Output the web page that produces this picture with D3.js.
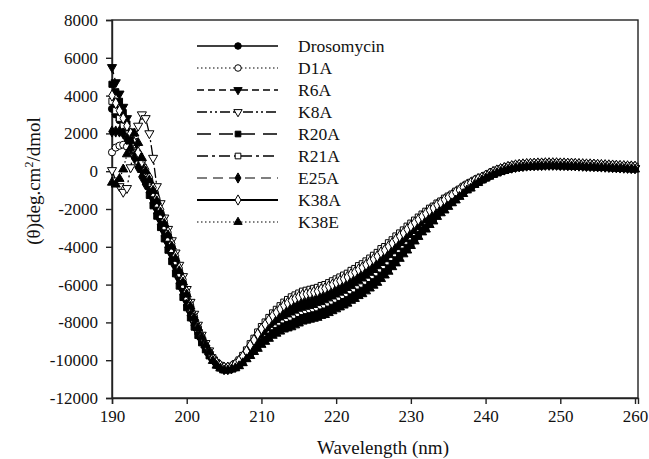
<!DOCTYPE html>
<html>
<head>
<meta charset="utf-8">
<script src="https://cdn.jsdelivr.net/npm/d3@7"></script>
<style>body { margin: 0; background: #fff; }</style>
</head>
<body>
<svg id="chart" width="649" height="459"></svg>
<script>
// wavelength grid, 190 -> 260 nm every 0.5 nm
let wavelengths = d3.range(0, 141).map(i => 190 + i * 0.5);

// mean residue ellipticity, one list per peptide
let drosomycin = [3300, 3000, 2700, 2400, 2000, 1600, 1100, 600, 100, -350,
  -800, -1350, -1900, -2500, -3100, -3700, -4300, -4950, -5600, -6200,
  -6800, -7400, -7950, -8450, -8900, -9300, -9650, -9950, -10200, -10350,
  -10450, -10450, -10400, -10300, -10150, -9950, -9700, -9450, -9200, -8950,
  -8700, -8500, -8300, -8100, -7950, -7800, -7650, -7550, -7450, -7350,
  -7250, -7150, -7100, -7050, -7000, -6950, -6850, -6800, -6700, -6600,
  -6500, -6400, -6300, -6200, -6050, -5950, -5800, -5700, -5550, -5400,
  -5250, -5100, -4900, -4750, -4550, -4350, -4150, -3950, -3750, -3550,
  -3350, -3150, -2950, -2750, -2600, -2400, -2250, -2050, -1900, -1750,
  -1600, -1450, -1300, -1150, -1000, -850, -750, -600, -500, -400,
  -300, -200, -100, -20, 50, 110, 170, 210, 250, 280,
  300, 320, 330, 340, 350, 350, 360, 360, 360, 360,
  350, 350, 340, 340, 330, 320, 310, 300, 300, 290,
  280, 270, 260, 250, 240, 230, 220, 210, 200, 190,
  180];

let d1a = [1000, 1250, 1350, 1400, 1300, 1100, 800, 500, 150, -200,
  -480, -1030, -1580, -2180, -2780, -3380, -3980, -4630, -5280, -5880,
  -6520, -7160, -7750, -8290, -8780, -9200, -9570, -9910, -10160, -10310,
  -10410, -10410, -10360, -10240, -10070, -9850, -9580, -9290, -9020, -8730,
  -8460, -8240, -8020, -7800, -7630, -7460, -7290, -7170, -7050, -6950,
  -6850, -6750, -6700, -6650, -6600, -6550, -6450, -6400, -6300, -6200,
  -6100, -6000, -5900, -5800, -5650, -5550, -5400, -5300, -5150, -5000,
  -4850, -4700, -4500, -4370, -4170, -3990, -3790, -3610, -3430, -3230,
  -3050, -2870, -2690, -2510, -2360, -2180, -2050, -1870, -1740, -1590,
  -1460, -1330, -1180, -1050, -900, -770, -670, -540, -440, -360,
  -260, -160, -60, 20, 90, 150, 210, 250, 290, 320,
  340, 360, 370, 380, 390, 390, 400, 400, 400, 400,
  390, 390, 380, 380, 370, 360, 350, 340, 340, 330,
  320, 310, 300, 290, 280, 270, 260, 250, 240, 230,
  220];

let r6a = [5500, 4700, 4100, 3400, 2800, 2100, 1400, 800, 200, -350,
  -960, -1510, -2060, -2660, -3260, -3860, -4460, -5110, -5760, -6360,
  -6940, -7520, -8050, -8530, -8960, -9350, -9690, -9970, -10220, -10370,
  -10470, -10470, -10420, -10330, -10190, -10000, -9760, -9530, -9290, -9060,
  -8820, -8630, -8440, -8250, -8110, -7970, -7830, -7740, -7650, -7550,
  -7450, -7350, -7300, -7250, -7200, -7150, -7050, -7000, -6900, -6800,
  -6700, -6600, -6500, -6400, -6250, -6150, -6000, -5900, -5750, -5600,
  -5450, -5300, -5100, -4940, -4740, -4530, -4330, -4120, -3910, -3710,
  -3500, -3290, -3080, -2870, -2720, -2510, -2350, -2140, -1980, -1830,
  -1670, -1510, -1360, -1200, -1050, -890, -790, -630, -530, -420,
  -320, -220, -120, -40, 30, 90, 150, 190, 230, 260,
  280, 300, 310, 320, 330, 330, 340, 340, 340, 340,
  330, 330, 320, 320, 310, 300, 290, 280, 280, 270,
  260, 250, 240, 230, 220, 210, 200, 190, 180, 170,
  160];

let k8a = [50, -500, -800, -1100, -900, 200, 1300, 2400, 3000, 2800,
  2000, 700, -800, -1700, -2460, -3060, -3660, -4310, -4960, -5560,
  -6240, -6920, -7550, -8130, -8660, -9100, -9490, -9990, -10240, -10390,
  -10490, -10490, -10440, -10360, -10230, -10050, -9820, -9610, -9380, -9170,
  -8940, -8760, -8580, -8400, -8270, -8140, -8010, -7930, -7850, -7750,
  -7650, -7550, -7500, -7450, -7400, -7350, -7250, -7200, -7100, -7000,
  -6900, -6800, -6700, -6600, -6450, -6350, -6200, -6100, -5950, -5800,
  -5650, -5500, -5300, -5130, -4930, -4710, -4510, -4290, -4070, -3870,
  -3650, -3430, -3210, -2990, -2840, -2620, -2450, -2230, -2060, -1910,
  -1740, -1570, -1420, -1250, -1100, -930, -830, -660, -560, -440,
  -340, -240, -140, -60, 10, 70, 130, 170, 210, 240,
  260, 280, 290, 300, 310, 310, 320, 320, 320, 320,
  310, 310, 300, 300, 290, 280, 270, 260, 260, 250,
  240, 230, 220, 210, 200, 190, 180, 170, 160, 150,
  140];

let r20a = [4600, 4200, 3700, 3100, 2500, 1900, 1300, 700, 100, -550,
  -1280, -1830, -2380, -2980, -3580, -4180, -4780, -5430, -6080, -6680,
  -7220, -7760, -8250, -8690, -9080, -9450, -9770, -10010, -10260, -10410,
  -10510, -10510, -10460, -10390, -10270, -10100, -9880, -9690, -9470, -9280,
  -9060, -8890, -8720, -8550, -8430, -8310, -8190, -8120, -8050, -7950,
  -7850, -7750, -7700, -7650, -7600, -7550, -7450, -7400, -7300, -7200,
  -7100, -7000, -6900, -6800, -6650, -6550, -6400, -6300, -6150, -6000,
  -5850, -5700, -5500, -5320, -5120, -4890, -4690, -4460, -4230, -4030,
  -3800, -3570, -3340, -3110, -2960, -2730, -2550, -2320, -2140, -1990,
  -1810, -1630, -1480, -1300, -1150, -970, -870, -690, -590, -460,
  -360, -260, -160, -80, -10, 50, 110, 150, 190, 220,
  240, 260, 270, 280, 290, 290, 300, 300, 300, 300,
  290, 290, 280, 280, 270, 260, 250, 240, 240, 230,
  220, 210, 200, 190, 180, 170, 160, 150, 140, 130,
  120];

let r21a = [3700, 3200, 2800, 2400, 2000, 1700, 1300, 900, 400, -100,
  -640, -1190, -1740, -2340, -2940, -3540, -4140, -4790, -5440, -6040,
  -6660, -7280, -7850, -8370, -8840, -9250, -9610, -9870, -10120, -10270,
  -10370, -10370, -10320, -10180, -9990, -9750, -9460, -9130, -8840, -8510,
  -8220, -7980, -7740, -7500, -7310, -7120, -6930, -6790, -6650, -6550,
  -6450, -6350, -6300, -6250, -6200, -6150, -6050, -6000, -5900, -5800,
  -5700, -5600, -5500, -5400, -5250, -5150, -5000, -4900, -4750, -4600,
  -4450, -4300, -4100, -3990, -3790, -3630, -3430, -3270, -3110, -2910,
  -2750, -2590, -2430, -2270, -2120, -1960, -1850, -1690, -1580, -1430,
  -1320, -1210, -1060, -950, -800, -690, -590, -480, -380, -320,
  -220, -120, -20, 60, 130, 190, 250, 290, 330, 360,
  380, 400, 410, 420, 430, 430, 440, 440, 440, 440,
  430, 430, 420, 420, 410, 400, 390, 380, 380, 370,
  360, 350, 340, 330, 320, 310, 300, 290, 280, 270,
  260];

let e25a = [2100, 2100, 2100, 2000, 1700, 1200, 700, 200, -300, -700,
  -1120, -1670, -2220, -2820, -3420, -4020, -4620, -5270, -5920, -6520,
  -7080, -7640, -8150, -8610, -9020, -9400, -9730, -9930, -10180, -10330,
  -10430, -10430, -10380, -10270, -10110, -9900, -9640, -9370, -9110, -8840,
  -8580, -8370, -8160, -7950, -7790, -7630, -7470, -7360, -7250, -7150,
  -7050, -6950, -6900, -6850, -6800, -6750, -6650, -6600, -6500, -6400,
  -6300, -6200, -6100, -6000, -5850, -5750, -5600, -5500, -5350, -5200,
  -5050, -4900, -4700, -4560, -4360, -4170, -3970, -3780, -3590, -3390,
  -3200, -3010, -2820, -2630, -2480, -2290, -2150, -1960, -1820, -1670,
  -1530, -1390, -1240, -1100, -950, -810, -710, -570, -470, -380,
  -280, -180, -80, 0, 70, 130, 190, 230, 270, 300,
  320, 340, 350, 360, 370, 370, 380, 380, 380, 380,
  370, 370, 360, 360, 350, 340, 330, 320, 320, 310,
  300, 290, 280, 270, 260, 250, 240, 230, 220, 210,
  200];

let k38a = [4000, 3600, 3200, 2800, 2400, 2000, 1500, 1000, 500, 100,
  -320, -870, -1420, -2020, -2620, -3220, -3820, -4470, -5120, -5720,
  -6380, -7040, -7650, -8210, -8720, -9150, -9530, -9890, -10140, -10290,
  -10390, -10390, -10340, -10210, -10030, -9800, -9520, -9210, -8930, -8620,
  -8340, -8110, -7880, -7650, -7470, -7290, -7110, -6980, -6850, -6750,
  -6650, -6550, -6500, -6450, -6400, -6350, -6250, -6200, -6100, -6000,
  -5900, -5800, -5700, -5600, -5450, -5350, -5200, -5100, -4950, -4800,
  -4650, -4500, -4300, -4180, -3980, -3810, -3610, -3440, -3270, -3070,
  -2900, -2730, -2560, -2390, -2240, -2070, -1950, -1780, -1660, -1510,
  -1390, -1270, -1120, -1000, -850, -730, -630, -510, -410, -340,
  -240, -140, -40, 40, 110, 170, 230, 270, 310, 340,
  360, 380, 390, 400, 410, 410, 420, 420, 420, 420,
  410, 410, 400, 400, 390, 380, 370, 360, 360, 350,
  340, 330, 320, 310, 300, 290, 280, 270, 260, 250,
  240];

let k38e = [-600, -700, -400, 100, 900, 1600, 2000, 1500, 700, 0,
  -480, -1030, -1580, -2180, -2780, -3380, -3980, -4630, -5280, -5880,
  -6520, -7160, -7750, -8290, -8780, -9200, -9570, -10030, -10280, -10430,
  -10530, -10530, -10480, -10420, -10310, -10150, -9940, -9770, -9560, -9390,
  -9180, -9020, -8860, -8700, -8590, -8480, -8370, -8310, -8250, -8150,
  -8050, -7950, -7900, -7850, -7800, -7750, -7650, -7600, -7500, -7400,
  -7300, -7200, -7100, -7000, -6850, -6750, -6600, -6500, -6350, -6200,
  -6050, -5900, -5700, -5510, -5310, -5070, -4870, -4630, -4390, -4190,
  -3950, -3710, -3470, -3230, -3080, -2840, -2650, -2410, -2220, -2070,
  -1880, -1690, -1540, -1350, -1200, -1010, -910, -720, -620, -480,
  -380, -280, -180, -100, -30, 30, 90, 130, 170, 200,
  220, 240, 250, 260, 270, 270, 280, 280, 280, 280,
  270, 270, 260, 260, 250, 240, 230, 220, 220, 210,
  200, 190, 180, 170, 160, 150, 140, 130, 120, 110,
  100];

let seriesNames = ["Drosomycin", "D1A", "R6A", "K8A", "R20A", "R21A", "E25A", "K38A", "K38E"];
let seriesValues = [drosomycin, d1a, r6a, k8a, r20a, r21a, e25a, k38a, k38e];

let xTicks = [190, 200, 210, 220, 230, 240, 250, 260];
let yTicks = [-12000, -10000, -8000, -6000, -4000, -2000, 0, 2000, 4000, 6000, 8000];

// styles, same order as the names
let triDown = { draw: (ctx, size) => {
  let h = Math.sqrt(size / (3 * Math.sqrt(3)));
  ctx.moveTo(0, 2 * h); ctx.lineTo(-Math.sqrt(3) * h, -h); ctx.lineTo(Math.sqrt(3) * h, -h); ctx.closePath();
} };
let markerShape = [d3.symbolCircle, d3.symbolCircle, triDown, triDown, d3.symbolSquare, d3.symbolSquare, d3.symbolDiamond, d3.symbolDiamond, d3.symbolTriangle];
let markerSize = [40, 40, 36, 36, 38, 38, 36, 36, 36];
let markerFilled = [true, false, true, false, true, false, true, false, true];
let lineDash = [null, "1.5,2.5", "7,4", "10,3,2,3,2,3", "14,8", "11,4,3,4", "10,6", null, "1.5,2.5"];
let lineWidth = [1.3, 1.2, 1.3, 1.3, 1.4, 1.3, 1.2, 2.2, 1.2];

let svg = d3.select("#chart");

let x = d3.scaleLinear().domain([190, 260.4]).range([112, 638]);
let y = d3.scaleLinear().domain([-12000, 8000]).range([398, 20]);

// frame
svg.append("rect")
  .attr("x", 112).attr("y", 20)
  .attr("width", 638 - 112).attr("height", 398 - 20)
  .attr("fill", "none").attr("stroke", "#222").attr("stroke-width", 1.4);

let xAxis = svg.append("g")
  .attr("transform", "translate(0,398)")
  .call(d3.axisBottom(x).tickValues(xTicks).tickSize(6).tickPadding(6).tickFormat(d => String(d)));
let yAxis = svg.append("g")
  .attr("transform", "translate(112,0)")
  .call(d3.axisLeft(y).tickValues(yTicks).tickSize(6).tickPadding(8).tickFormat(d => String(d)));

[xAxis, yAxis].forEach(ax => {
  ax.attr("font-family", null).attr("font-size", null);
  ax.selectAll("path").attr("stroke", "#222").attr("stroke-width", 1.4);
  ax.selectAll("line").attr("stroke", "#222").attr("stroke-width", 1.4);
  ax.selectAll("text")
    .attr("font-family", "Times New Roman")
    .attr("font-size", 17)
    .attr("fill", "#111");
});

// curves
let line = d3.line().x(d => x(d[0])).y(d => y(d[1]));

seriesValues.forEach((vals, i) => {
  let pts = vals.map((v, j) => [wavelengths[j], v]);
  let g = svg.append("g");
  g.append("path")
    .attr("d", line(pts))
    .attr("fill", "none")
    .attr("stroke", "#000")
    .attr("stroke-width", lineWidth[i])
    .attr("stroke-dasharray", lineDash[i]);
  g.selectAll("path.mark")
    .data(pts)
    .enter()
    .append("path")
    .attr("class", "mark")
    .attr("transform", d => "translate(" + x(d[0]) + "," + y(d[1]) + ")")
    .attr("d", d3.symbol().type(markerShape[i]).size(markerSize[i]))
    .attr("fill", markerFilled[i] ? "#000" : "#fff")
    .attr("stroke", "#000")
    .attr("stroke-width", 1);
});

// legend
seriesNames.forEach((name, i) => {
  let ly = 46 + 22 * i;
  svg.append("line")
    .attr("x1", 197).attr("x2", 278).attr("y1", ly).attr("y2", ly)
    .attr("stroke", "#000")
    .attr("stroke-width", lineWidth[i])
    .attr("stroke-dasharray", lineDash[i]);
  svg.append("path")
    .attr("transform", "translate(238," + ly + ")")
    .attr("d", d3.symbol().type(markerShape[i]).size(markerSize[i] - 6))
    .attr("fill", markerFilled[i] ? "#000" : "#fff")
    .attr("stroke", "#000")
    .attr("stroke-width", 1);
  svg.append("text")
    .attr("x", 298).attr("y", ly + 6)
    .attr("font-family", "Times New Roman")
    .attr("font-size", 17.5)
    .attr("fill", "#111")
    .text(name);
});

// axis titles
svg.append("text")
  .attr("x", 383).attr("y", 454)
  .attr("text-anchor", "middle")
  .attr("font-family", "Times New Roman")
  .attr("font-size", 19)
  .attr("fill", "#111")
  .text("Wavelength (nm)");

let yTitle = svg.append("text")
  .attr("transform", "translate(40,181) rotate(-90)")
  .attr("text-anchor", "middle")
  .attr("font-family", "Times New Roman")
  .attr("font-size", 19)
  .attr("fill", "#111");
yTitle.append("tspan").text("(θ)deg.cm");
yTitle.append("tspan").attr("dy", -7).attr("font-size", 12).text("2");
yTitle.append("tspan").attr("dy", 7).text("/dmol");
</script>
</body>
</html>
